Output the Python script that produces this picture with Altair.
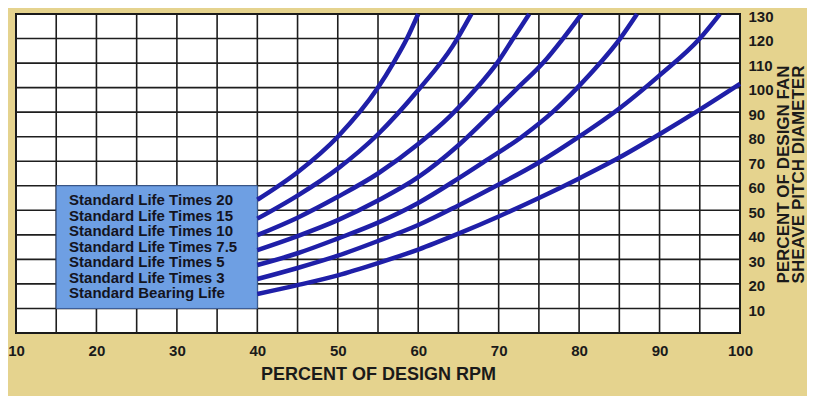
import altair as alt
import pandas as pd

# ---- data ----
series_names = [
    "Standard Life Times 20",
    "Standard Life Times 15",
    "Standard Life Times 10",
    "Standard Life Times 7.5",
    "Standard Life Times 5",
    "Standard Life Times 3",
    "Standard Bearing Life",
]

rpm_x20 = [40, 45, 50, 55, 56.9, 58.6, 60]
dia_x20 = [54.3, 65.5, 80, 100, 110, 120, 130]

rpm_x15 = [40, 45, 50, 55, 60, 64.3, 66.6]
dia_x15 = [46.6, 56, 67, 81, 99, 117, 130]

rpm_x10 = [40, 45, 50, 55, 60, 64, 67.7, 69.8, 71.8, 73.8]
dia_x10 = [39.9, 47, 55.5, 65, 77, 88.5, 101.5, 110, 120, 130]

rpm_x75 = [40, 45, 50, 55, 60, 65, 69.3, 72.4, 75.5, 78, 80.3]
dia_x75 = [33.8, 39.5, 46, 54, 63.5, 76.5, 90, 100, 110, 120, 130]

rpm_x5 = [40, 45, 50, 55, 60, 65, 68.3, 72.9, 76.7, 79.8, 82.6, 85.1, 87.2]
dia_x5 = [27.7, 32.5, 38.5, 45, 53, 63, 70, 80, 90, 100, 110, 120, 130]

rpm_x3 = [40, 45, 50, 55, 60, 65, 70, 75, 80, 85, 90, 95, 97.5]
dia_x3 = [22, 26.5, 31.5, 37.5, 44, 52, 60.5, 69.5, 80, 91.5, 105, 120, 130]

rpm_std = [40, 45, 50, 55, 60, 65, 70, 75, 80, 85, 90, 95, 100]
dia_std = [15.9, 19.5, 23.5, 28.5, 34, 40.5, 47.5, 55, 63, 71.5, 81, 91, 101.5]

x_ticks = [10, 20, 30, 40, 50, 60, 70, 80, 90, 100]
y_ticks = [10, 20, 30, 40, 50, 60, 70, 80, 90, 100, 110, 120, 130]
x_grid = list(range(10, 101, 5))
y_grid = list(range(0, 131, 10))

# ---- build tables ----
curves = [
    (rpm_x20, dia_x20), (rpm_x15, dia_x15), (rpm_x10, dia_x10), (rpm_x75, dia_x75),
    (rpm_x5, dia_x5), (rpm_x3, dia_x3), (rpm_std, dia_std),
]
rows = []
for name, (xs_, ys_) in zip(series_names, curves):
    for a, b in zip(xs_, ys_):
        rows.append({"series": name, "rpm": a, "dia": b})
df = pd.DataFrame(rows)

legend_box = pd.DataFrame([{"x": 15, "x2": 40, "y": 10, "y2": 60}])
label_x = 16.6
label_top = 54.0
label_step = 6.3
df_labels = pd.DataFrame({
    "name": series_names,
    "lx": [label_x] * len(series_names),
    "ly": [label_top - i * label_step for i in range(len(series_names))],
})

FONT = "Liberation Sans"
INK = "#1a1a1a"
GRID = "#1e1e1e"

xs = alt.Scale(domain=[10, 100], nice=False, zero=False)
ys = alt.Scale(domain=[0, 130], nice=False, zero=False)

x_axis = alt.Axis(
    values=x_ticks, title="PERCENT OF DESIGN RPM", grid=False, ticks=False,
    domain=False, labelPadding=17, labelBaseline="middle", labelFlush=False,
    labelOverlap=False, labelBound=False,
    titleY=41, titleBaseline="middle",
)
y_axis = alt.Axis(
    orient="right", values=y_ticks,
    title=["PERCENT OF DESIGN FAN", "SHEAVE PITCH DIAMETER"],
    grid=False, ticks=False, domain=False, labelPadding=8,
    labelAlign="left", labelBaseline="middle", labelOffset=2,
    labelFlush=False, labelOverlap=False, labelBound=False,
    titleAngle=270, titleX=43, titleY=160, titleAlign="center",
    titleBaseline="middle", titleLineHeight=15.5, titleFontSize=17,
)

vgrid = alt.Chart(pd.DataFrame({"rpm": x_grid})).mark_rule(
    color=GRID, strokeWidth=1.6
).encode(x=alt.X("rpm:Q", scale=xs, axis=x_axis))

hgrid = alt.Chart(pd.DataFrame({"dia": y_grid})).mark_rule(
    color=GRID, strokeWidth=1.6
).encode(y=alt.Y("dia:Q", scale=ys, axis=y_axis))

box = alt.Chart(legend_box).mark_rect(
    color="#6e9fe3", stroke="#3d5f99", strokeWidth=1
).encode(
    x=alt.X("x:Q", scale=xs, axis=x_axis), x2="x2:Q",
    y=alt.Y("y:Q", scale=ys, axis=y_axis), y2="y2:Q",
)

labels = alt.Chart(df_labels).mark_text(
    align="left", baseline="middle", font=FONT, fontWeight="bold",
    fontSize=15, color="#14141e"
).encode(
    x=alt.X("lx:Q", scale=xs, axis=x_axis),
    y=alt.Y("ly:Q", scale=ys, axis=y_axis),
    text="name:N",
)

lines = alt.Chart(df).mark_line(
    color="#1f1fa8", strokeWidth=4.5, interpolate="monotone", strokeCap="butt"
).encode(
    x=alt.X("rpm:Q", scale=xs, axis=x_axis),
    y=alt.Y("dia:Q", scale=ys, axis=y_axis),
    detail="series:N",
    order=alt.Order("rpm:Q"),
)

chart = alt.layer(vgrid, hgrid, box, labels, lines).properties(
    width=724, height=319,
    padding={"left": 8, "top": 6, "right": 67, "bottom": 63},
    autosize="none",
    background="#e5d38e",
).configure_view(
    fill="white", stroke="#111111", strokeWidth=2
).configure_axis(
    labelFont=FONT, labelFontWeight="bold", labelFontSize=15, labelColor=INK,
    titleFont=FONT, titleFontWeight="bold", titleFontSize=18, titleColor=INK,
)

chart.save("out.html", embed_options={"renderer": "svg", "actions": False})
